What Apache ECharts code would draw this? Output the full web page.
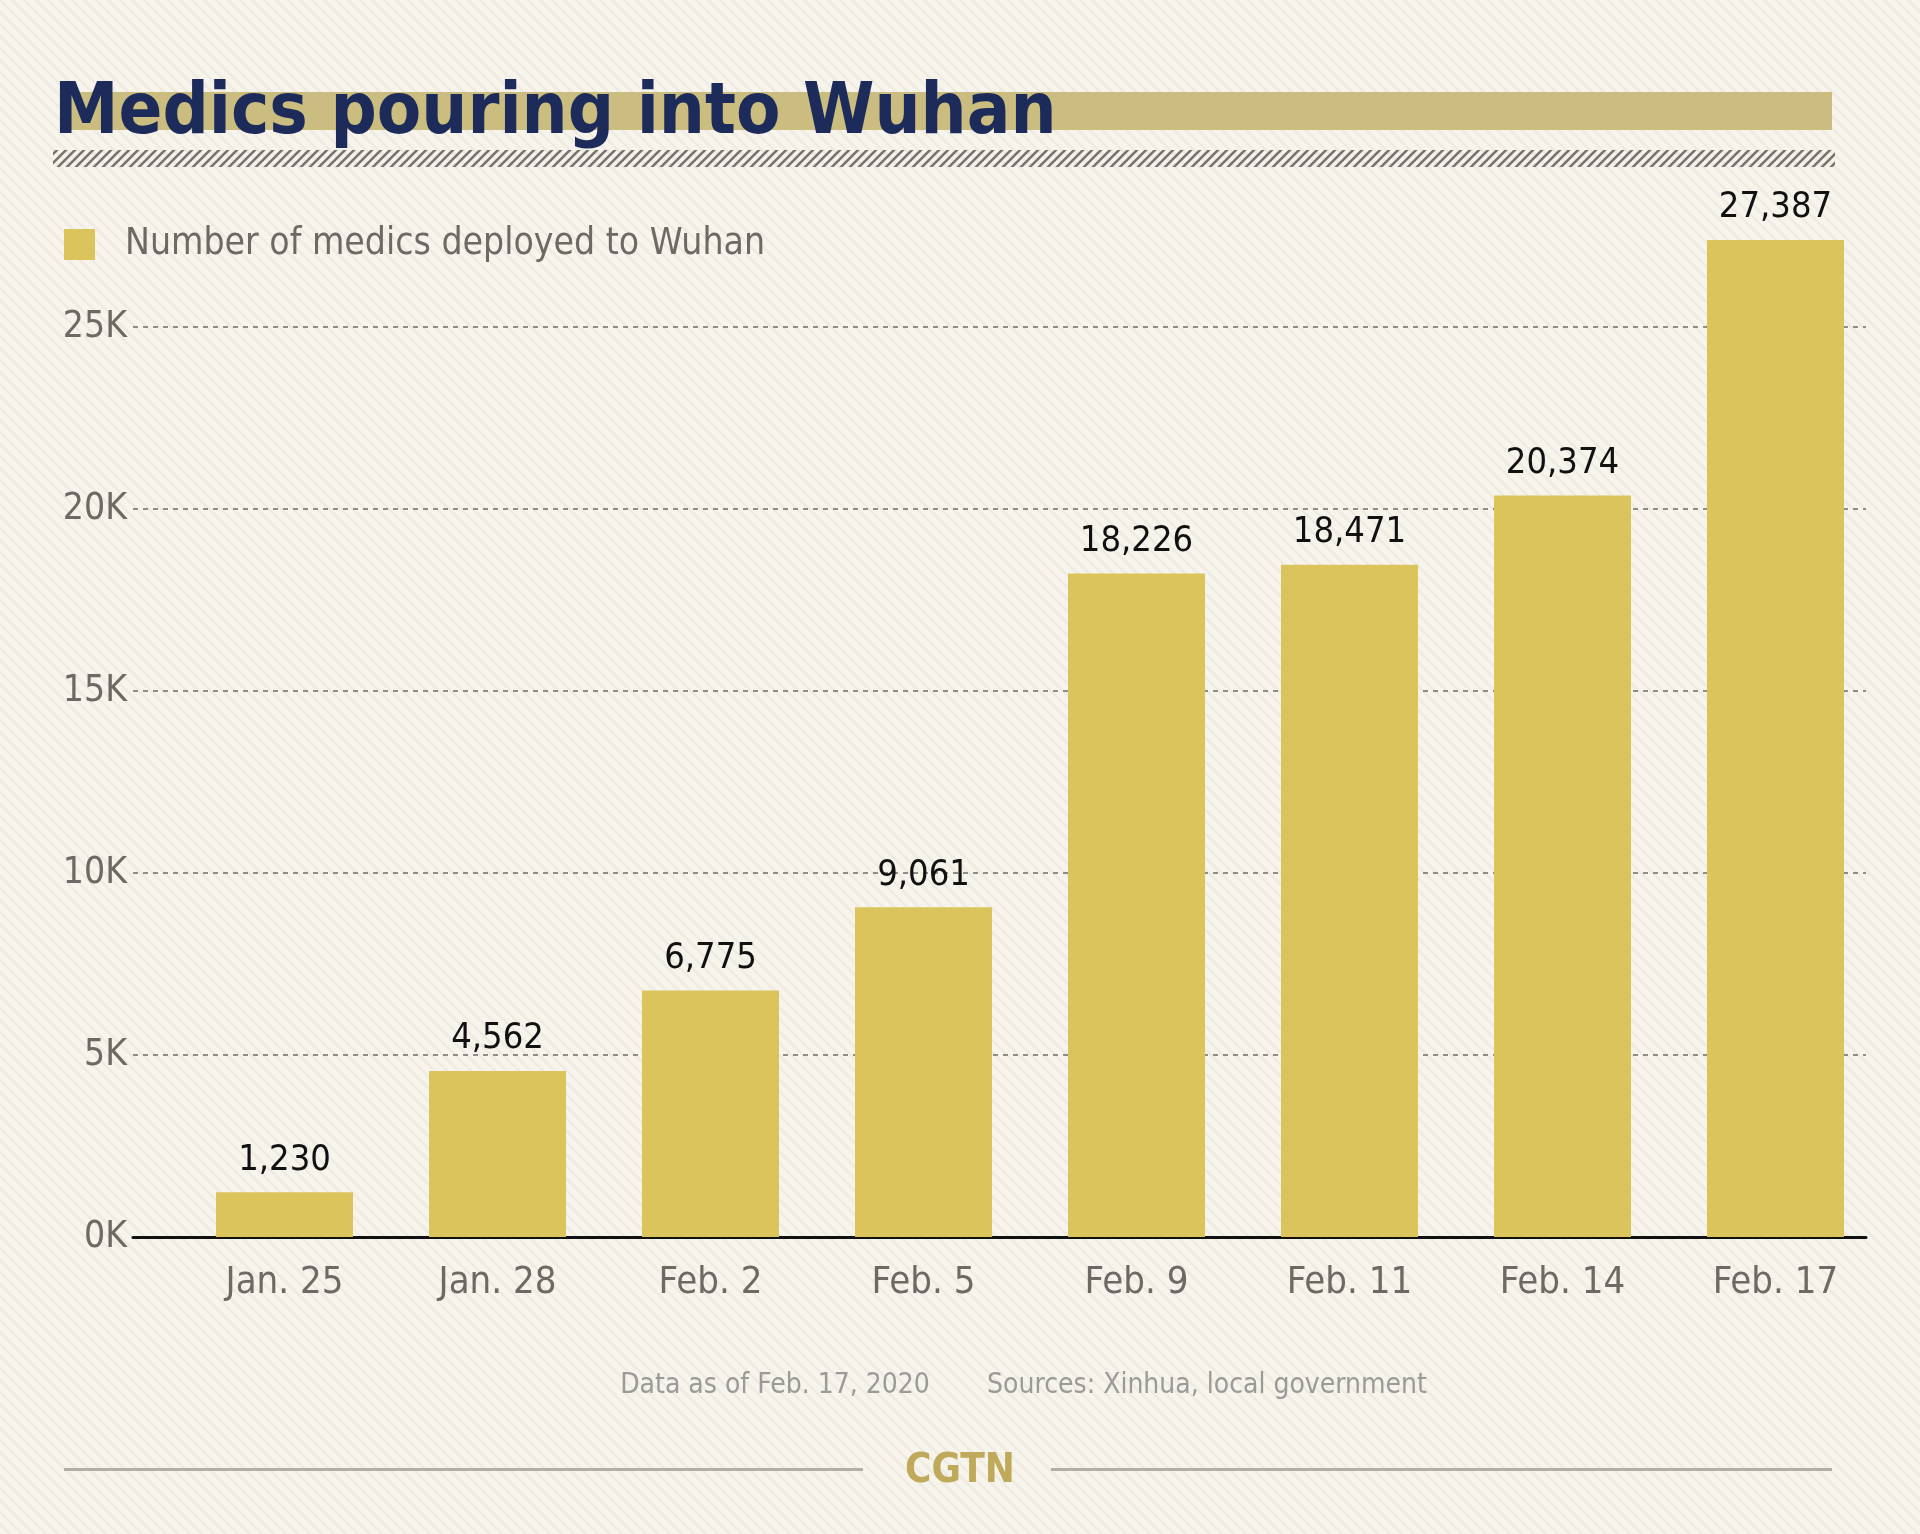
<!DOCTYPE html>
<html>
<head>
<meta charset="utf-8">
<script src="https://cdn.jsdelivr.net/npm/echarts@6/dist/echarts.min.js"></script>
<style>
html,body{margin:0;padding:0;background:#f7f4ec;}
#chart{width:1920px;height:1534px;}
</style>
</head>
<body>
<div id="chart"></div>
<script>
// ---- data ----
const categories = ['Jan. 25', 'Jan. 28', 'Feb. 2', 'Feb. 5', 'Feb. 9', 'Feb. 11', 'Feb. 14', 'Feb. 17'];
const medics = [1230, 4562, 6775, 9061, 18226, 18471, 20374, 27387];
const seriesName = 'Number of medics deployed to Wuhan';
const titleText = 'Medics pouring into Wuhan';
const noteText = 'Data as of Feb. 17, 2020';
const sourceText = 'Sources: Xinhua, local government';
const yTickStep = 5000;
const yMax = 30000;

// ---- patterns ----
function makeStripe(size, color, lw, dir) {
  const c = document.createElement('canvas');
  c.width = size; c.height = size;
  const g = c.getContext('2d');
  g.strokeStyle = color; g.lineWidth = lw;
  g.beginPath();
  if (dir === '/') {
    g.moveTo(-1, size + 1); g.lineTo(size + 1, -1);
    g.moveTo(-1, 1); g.lineTo(1, -1);
    g.moveTo(size - 1, size + 1); g.lineTo(size + 1, size - 1);
  } else {
    g.moveTo(-1, -1); g.lineTo(size + 1, size + 1);
    g.moveTo(size - 1, -1); g.lineTo(size + 1, 1);
    g.moveTo(-1, size - 1); g.lineTo(1, size + 1);
  }
  g.stroke();
  return c;
}
const bgPattern = { image: makeStripe(12, 'rgba(120,110,90,0.06)', 2.5, '\\'), repeat: 'repeat' };
const hatchPattern = { image: makeStripe(9, '#77746f', 2.6, '/'), repeat: 'repeat' };

const FONT = '"DejaVu Sans Condensed", "DejaVu Sans", sans-serif';
const chart = echarts.init(document.getElementById('chart'), null, { renderer: 'canvas' });

const option = {
  backgroundColor: '#f7f4ec',
  animation: false,
  title: {
    text: titleText,
    left: 54,
    top: 74,
    padding: 0,
    textStyle: { fontFamily: FONT, fontWeight: 'bold', fontSize: 72, lineHeight: 80, color: '#1c2b59' },
    z: 10
  },
  legend: {
    left: 64,
    top: 226,
    padding: 0,
    icon: 'rect',
    itemWidth: 31,
    itemHeight: 31,
    data: [seriesName],
    textStyle: { fontFamily: FONT, fontSize: 37, color: '#6d6a66', padding: [0, 0, 0, 25] }
  },
  graphic: [
    { type: 'rect', z: -10, silent: true, shape: { x: 0, y: 0, width: 1920, height: 1534 }, style: { fill: bgPattern } },
    { type: 'rect', z: 1, silent: true, shape: { x: 67, y: 92, width: 1765, height: 38 }, style: { fill: '#cbbd7f' } },
    { type: 'rect', z: 1, silent: true, shape: { x: 53, y: 150, width: 1782, height: 17 }, style: { fill: hatchPattern } },
    { type: 'text', z: 5, silent: true, style: { x: 775, y: 1386, text: noteText, font: '28px ' + FONT, fill: '#9b9a98', textAlign: 'center', textVerticalAlign: 'middle' } },
    { type: 'text', z: 5, silent: true, style: { x: 1207, y: 1386, text: sourceText, font: '28px ' + FONT, fill: '#9b9a98', textAlign: 'center', textVerticalAlign: 'middle' } },
    { type: 'rect', z: 5, silent: true, shape: { x: 64, y: 1468, width: 799, height: 3 }, style: { fill: '#b3aea6' } },
    { type: 'rect', z: 5, silent: true, shape: { x: 1051, y: 1468, width: 781, height: 3 }, style: { fill: '#b3aea6' } },
    { type: 'text', z: 5, silent: true, style: { x: 960, y: 1472, text: 'CGTN', font: 'bold 40px ' + FONT, fill: '#bfa95a', textAlign: 'center', textVerticalAlign: 'middle' } }
  ],
  grid: [
    { left: 133, right: 54, top: 145, bottom: 297 },
    { left: 178, right: 38, top: 145, bottom: 297 }
  ],
  xAxis: [
    {
      gridIndex: 0, type: 'value', min: 0, max: 1,
      axisLine: { show: true, lineStyle: { color: '#111', width: 3 } },
      axisTick: { show: false }, axisLabel: { show: false }, splitLine: { show: false }
    },
    {
      gridIndex: 1, type: 'category', data: categories,
      axisLine: { show: false }, axisTick: { show: false },
      axisLabel: { margin: 27, fontFamily: FONT, fontSize: 38, color: '#6d6a66' }
    }
  ],
  yAxis: [
    {
      gridIndex: 0, type: 'value', min: 0, max: yMax, interval: yTickStep,
      axisLine: { show: false }, axisTick: { show: false },
      axisLabel: {
        showMaxLabel: false, margin: 6, fontFamily: FONT, fontSize: 37, color: '#6d6a66',
        formatter: v => (v / 1000) + 'K'
      },
      splitLine: { show: true, showMaxLine: false, lineStyle: { color: '#6e6c68', width: 1.5, type: [5, 5] } }
    },
    {
      gridIndex: 1, type: 'value', min: 0, max: yMax, interval: yTickStep, show: false,
      splitLine: { show: false }
    }
  ],
  series: [
    {
      name: seriesName,
      type: 'bar',
      xAxisIndex: 1,
      yAxisIndex: 1,
      data: medics,
      barWidth: 137,
      itemStyle: { color: '#dac45b' },
      z: 3,
      label: {
        show: true, position: 'top', distance: 14,
        fontFamily: FONT, fontSize: 36, color: '#111',
        formatter: p => p.value.toLocaleString('en-US')
      }
    }
  ]
};
chart.setOption(option);
</script>
</body>
</html>
